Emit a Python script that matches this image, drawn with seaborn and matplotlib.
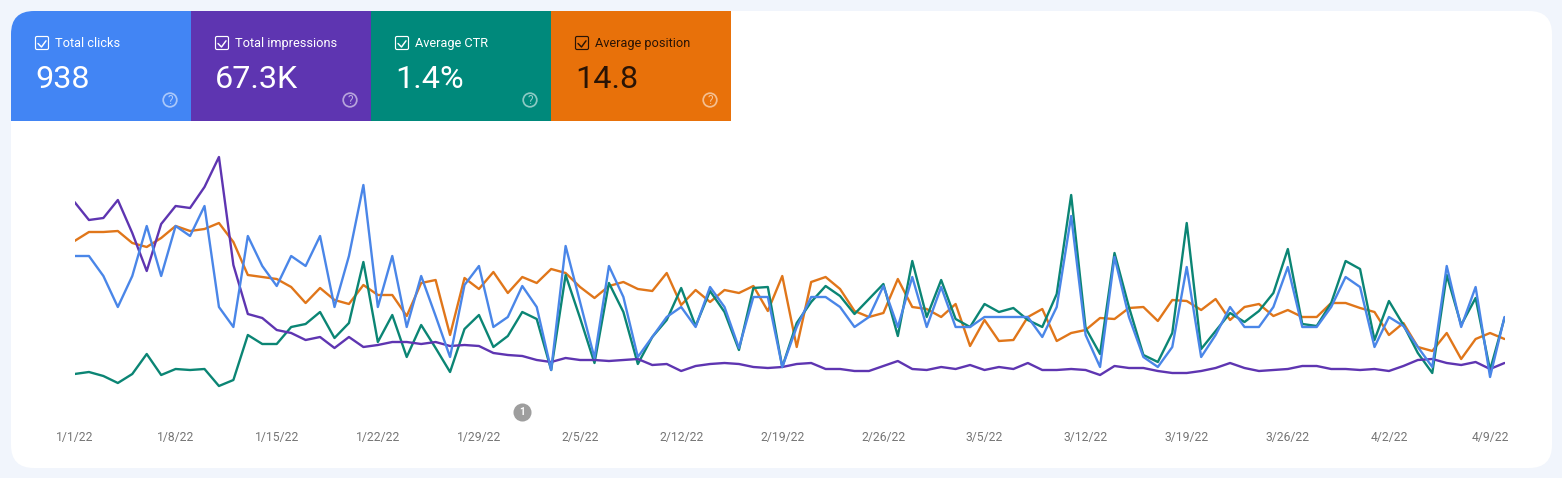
import numpy as np
import pandas as pd
import matplotlib
matplotlib.use("Agg")
import matplotlib.pyplot as plt
from matplotlib.patches import Rectangle, FancyBboxPatch, Circle
import seaborn as sns

START = "2022-01-01"
N_DAYS = 100

CLICKS = [164,164,144,113,144,194,144,194,184,214,113,93,184,154,134,164,154,184,113,164,235,113,164,93,144,104,
          63,135,154,93,103,134,113,50,174,118,62,154,123,63,83,103,113,93,133,113,72,123,123,53,93,
          123,123,113,93,103,134,93,143,93,133,93,93,103,103,103,103,83,113,204,85,53,163,103,63,53,73,
          153,63,85,113,93,93,113,153,93,93,113,143,133,73,103,94,73,53,154,93,133,43,103]
CTR = [46,48,44,37,46,66,45,51,50,51,34,40,85,76,76,93,96,108,82,97,158,78,105,63,95,72,
       48,91,105,73,84,108,101,50,145,102,57,137,108,56,83,100,132,94,129,108,70,132,133,53,97,
       118,134,124,106,121,136,84,159,103,140,101,93,116,108,112,100,93,126,225,92,66,167,113,65,58,87,
       197,71,89,107,98,109,127,171,96,94,117,159,151,80,119,95,67,47,145,95,122,50,102]
POSITION = [179,188,188,189,177,173,182,194,189,191,197,178,145,143,141,133,117,132,120,116,135,125,125,104,137,140,
            85,142,131,148,127,143,137,151,147,133,122,134,138,131,129,147,115,130,118,130,127,134,109,144,73,
            138,143,131,109,103,107,141,113,111,103,116,74,100,79,80,103,111,79,87,90,102,101,112,113,99,120,
            119,110,121,100,113,116,104,110,103,103,117,117,112,108,85,97,73,69,87,61,81,87,81]
IMPRESSIONS = [218,200,202,220,187,149,196,214,212,233,263,155,106,102,90,87,80,83,72,83,73,75,78,78,76,78,
               74,75,74,67,65,64,60,58,62,60,60,59,60,61,55,56,49,54,56,57,56,53,52,53,56,
               57,51,51,49,49,54,59,51,50,53,51,55,50,53,51,57,50,50,51,50,45,54,52,52,49,47,
               47,49,52,57,52,49,50,51,54,54,51,51,50,51,49,54,60,61,57,55,58,51,57]

TICK_DATES = ["2022-01-01","2022-01-08","2022-01-15","2022-01-22","2022-01-29","2022-02-05","2022-02-12",
              "2022-02-19","2022-02-26","2022-03-05","2022-03-12","2022-03-19","2022-03-26","2022-04-02","2022-04-09"]
TICK_LABELS = ["1/1/22","1/8/22","1/15/22","1/22/22","1/29/22","2/5/22","2/12/22",
               "2/19/22","2/26/22","3/5/22","3/12/22","3/19/22","3/26/22","4/2/22","4/9/22"]

CARD_TITLES = ["Total clicks","Total impressions","Average CTR","Average position"]
CARD_VALUES = ["938","67.3K","1.4%","14.8"]
CARD_COLORS = ["#4285F4","#5E35B1","#00897B","#E8710A"]
CARD_INK = ["white","white","white","#2A1405"]
ANNOTATION_DATE = "2022-02-01"

W, H = 1562, 478
sns.set_theme(style="white")
plt.rcParams['font.family'] = ['Roboto', 'DejaVu Sans']
fig = plt.figure(figsize=(W/100, H/100), dpi=100, facecolor="#F1F5FC")

# decoration layer in pixel units
bg = fig.add_axes([0, 0, 1, 1])
bg.set_xlim(0, W); bg.set_ylim(H, 0); bg.axis("off")
RAD = 23
panel = FancyBboxPatch((11+RAD, 11+RAD), 1541-2*RAD, 457-2*RAD, boxstyle=f"round,pad={RAD},rounding_size={RAD}",
                       fc="white", ec="none", zorder=1)
bg.add_patch(panel)
CARD_W = 180
for k, (title, val, col, ink) in enumerate(zip(CARD_TITLES, CARD_VALUES, CARD_COLORS, CARD_INK)):
    x0 = 11 + k*CARD_W
    r = Rectangle((x0, 11), CARD_W, 110, fc=col, ec="none", zorder=2)
    bg.add_patch(r)
    r.set_clip_path(panel)
    bg.add_patch(FancyBboxPatch((x0+24.5, 36.5), 13, 13, boxstyle="round,pad=0,rounding_size=1.5",
                                fc="none", ec=ink, lw=0.85, zorder=3))
    bg.plot([x0+27, x0+30.5, x0+35], [43.5, 47, 40.8], color=ink, lw=1.05, zorder=3)
    bg.text(x0+44, 43.3, title, color=ink, fontsize=9.2, va="center", ha="left", zorder=3)
    bg.text(x0+24, 79, val, color=ink, fontsize=23.3, va="center", ha="left", zorder=3)
    bg.add_patch(Circle((x0+159, 100), 6.8, fc="none", ec="white", alpha=0.55, lw=1.25, zorder=3))
    bg.text(x0+159, 100.3, "?", color="white", alpha=0.6, fontsize=8.5, ha="center", va="center", zorder=3)

# chart layer
dates = pd.date_range(START, periods=N_DAYS)
series = {"Average position": POSITION, "Average CTR": CTR, "Total impressions": IMPRESSIONS, "Total clicks": CLICKS}
df = pd.concat([pd.DataFrame({"date": dates, "value": v, "metric": k}) for k, v in series.items()])

X0, X1, Y_TOP, Y_BOT = 74.5, 1504.5, 140, 420
ax = fig.add_axes([X0/W, 1-Y_BOT/H, (X1-X0)/W, (Y_BOT-Y_TOP)/H])
ax.patch.set_alpha(0)
palette = {"Total clicks": "#4A86E8", "Total impressions": "#5E35B1", "Average CTR": "#0B8574", "Average position": "#E0761A"}
sns.lineplot(data=df, x="date", y="value", hue="metric", palette=palette, linewidth=1.7,
             legend=False, ax=ax, estimator=None, errorbar=None)
ax.set_xlim(dates[0], dates[-1])
ax.set_ylim(0, 280)
ax.set_xlabel(""); ax.set_ylabel("")
ax.set_yticks([])
ax.set_xticks(pd.to_datetime(TICK_DATES))
ax.set_xticklabels(TICK_LABELS, fontsize=8.7, color="#757575")
ax.tick_params(axis="x", length=0, pad=8.2)
sns.despine(ax=ax, left=True, bottom=True)
for lbl in ax.get_xticklabels():
    lbl.set_clip_on(False)

# annotation marker, placed on the date axis
ann_x = pd.Timestamp(ANNOTATION_DATE)
ax.plot([ann_x], [8], marker="o", ms=13, color="#9E9E9E", mec="none", clip_on=False, zorder=5)
ax.text(ann_x, 8, "1", color="white", fontsize=7.2, fontweight="bold", ha="center", va="center", zorder=6)

fig.savefig("out.png", dpi=100, facecolor=fig.get_facecolor())
